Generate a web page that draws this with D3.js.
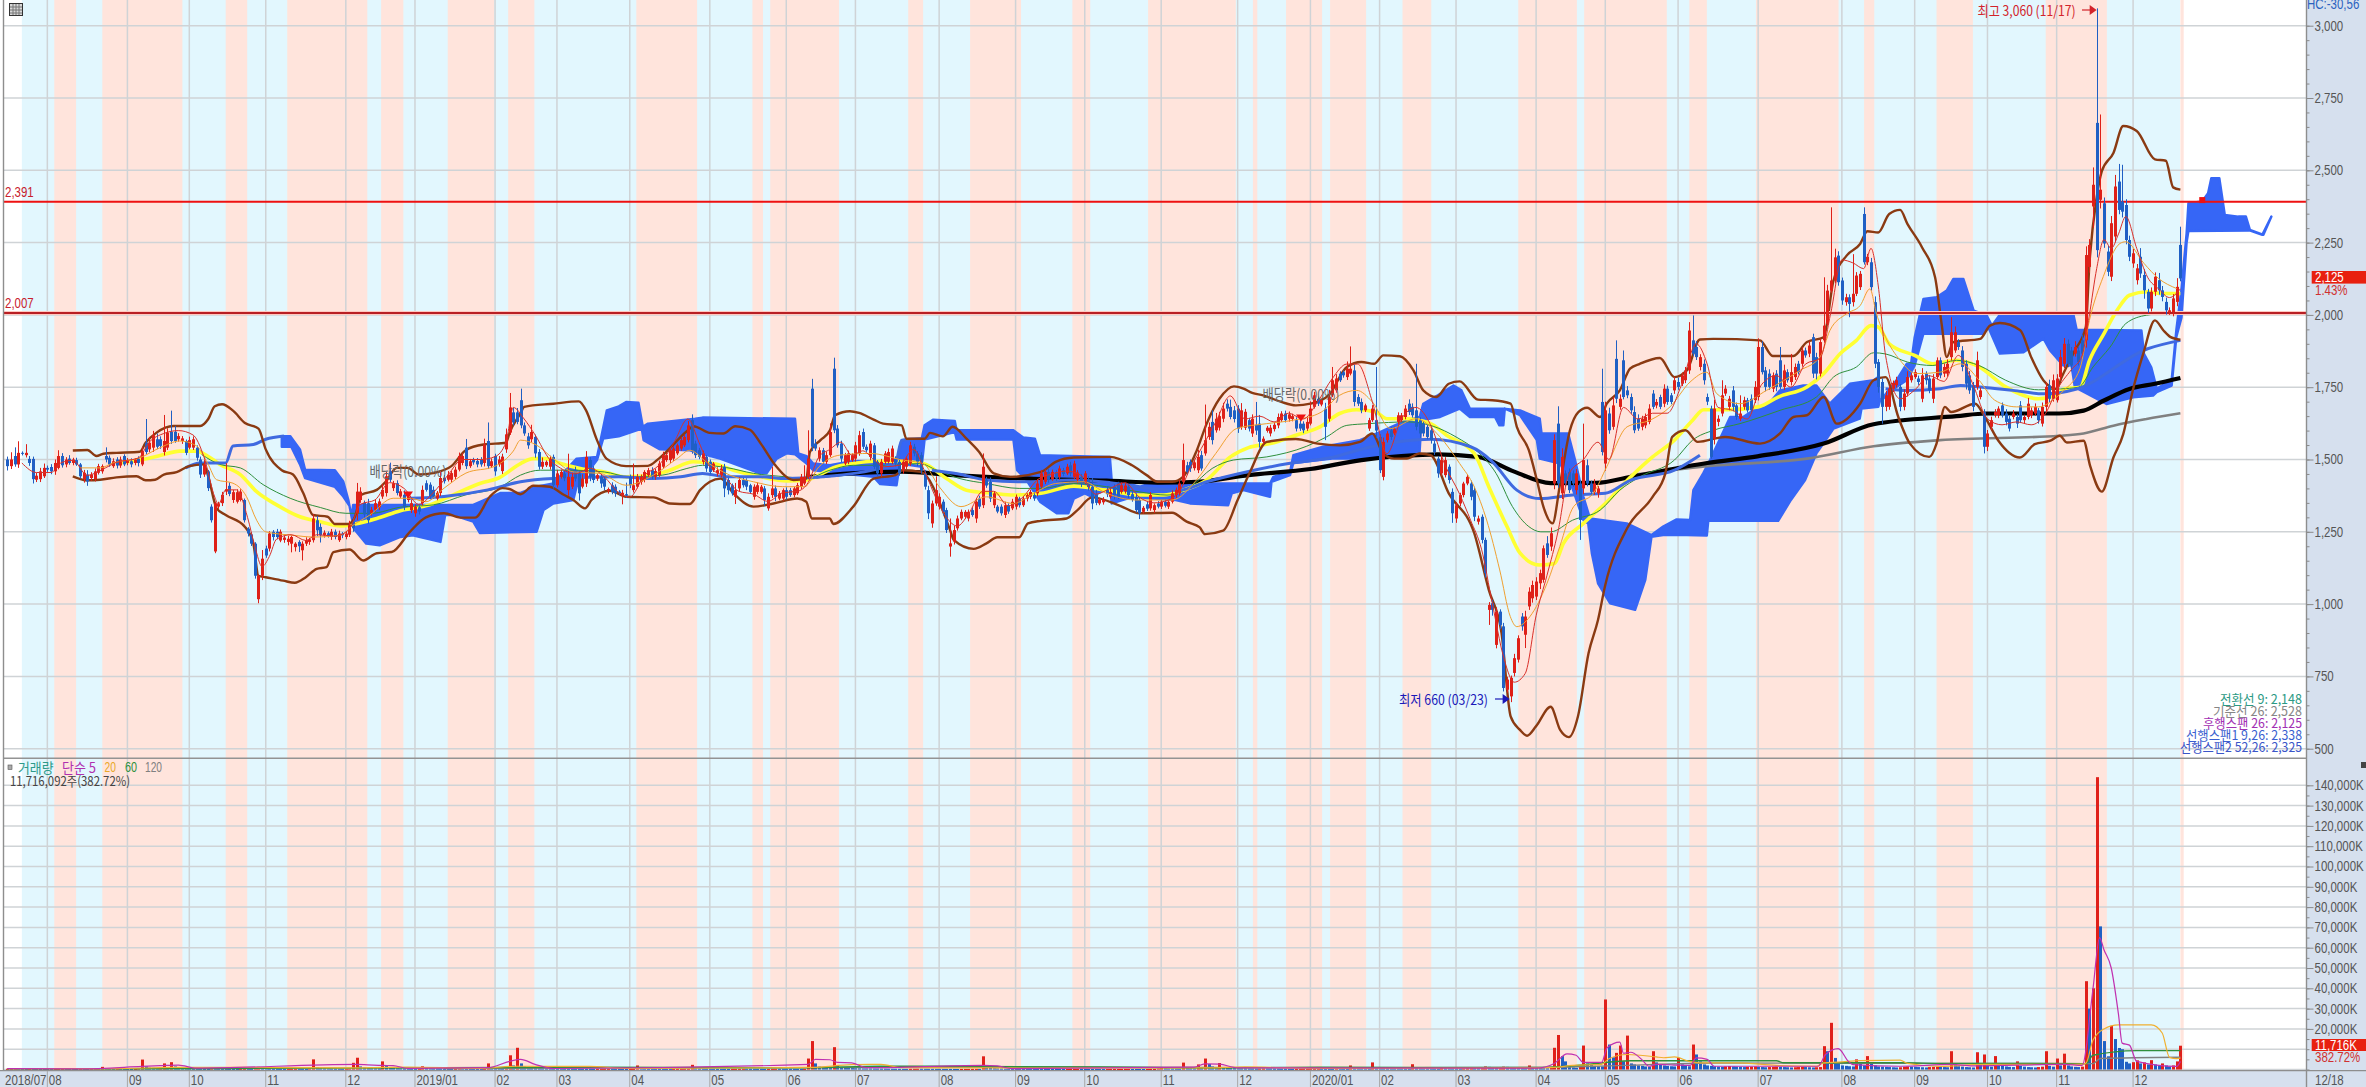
<!DOCTYPE html>
<html><head><meta charset="utf-8">
<script src="https://cdn.jsdelivr.net/npm/d3@7"></script>
<style>html,body{margin:0;padding:0;background:#fff;overflow:hidden}svg{display:block}</style>
</head><body><svg id="c" width="2366" height="1087"></svg>
<script>
const opens=[
1500,1477,1512,1483,1523,1515,1502,1502,1430,1432,
1442,1471,1474,1459,1471,1512,1483,1503,1488,1498,
1483,1432,1448,1436,1432,1454,1459,1512,1506,1477,
1500,1479,1512,1488,1494,1488,1503,1483,1558,1535,
1541,1570,1570,1526,1541,1596,1596,1570,1564,1564,
1541,1541,1541,1500,1448,1459,1337,1182,1337,1349,
1389,1409,1360,1354,1360,1360,1261,1241,1209,1017,
1098,1192,1192,1250,1250,1220,1222,1215,1209,1197,
1215,1186,1209,1215,1221,1290,1267,1238,1245,1232,
1250,1221,1244,1232,1240,1285,1314,1360,1350,1349,
1314,1326,1335,1372,1384,1459,1401,1418,1372,1378,
1360,1325,1314,1335,1349,1418,1413,1395,1365,1384,
1436,1430,1430,1440,1465,1488,1541,1477,1500,1495,
1500,1488,1564,1477,1512,1483,1460,1535,1593,1663,
1663,1705,1618,1580,1570,1578,1526,1475,1480,1475,
1509,1411,1440,1452,1394,1406,1463,1452,1406,1417,
1498,1469,1434,1440,1434,1392,1411,1406,1389,1375,
1380,1440,1394,1406,1423,1429,1446,1463,1440,1446,
1475,1498,1498,1503,1521,1538,1549,1567,1636,1555,
1532,1492,1509,1492,1463,1452,1446,1475,1429,1411,
1371,1400,1429,1429,1411,1371,1388,1388,1400,1331,
1377,1400,1365,1365,1394,1394,1377,1383,1406,1417,
1440,1745,1555,1503,1532,1492,1515,1814,1607,1555,
1486,1492,1498,1503,1521,1595,1544,1509,1549,1492,
1452,1492,1492,1492,1503,1492,1463,1475,1486,1544,
1521,1515,1452,1394,1279,1348,1337,1354,1325,1199,
1216,1262,1296,1302,1296,1325,1296,1365,1342,1430,
1423,1342,1337,1337,1308,1342,1331,1337,1365,1342,
1365,1371,1377,1383,1406,1423,1457,1432,1457,1440,
1463,1452,1480,1440,1430,1440,1423,1430,1406,1380,
1348,1352,1395,1371,1406,1417,1388,1390,1406,1380,
1371,1360,1319,1345,1331,1325,1348,1337,1354,1337,
1354,1377,1383,1423,1480,1492,1470,1463,1515,1521,
1578,1630,1601,1610,1641,1693,1682,1670,1676,1613,
1610,1636,1590,1620,1624,1561,1599,1590,1605,1618,
1636,1659,1641,1640,1636,1624,1624,1607,1624,1682,
1710,1690,1676,1641,1722,1739,1797,1802,1785,1797,
1808,1716,1699,1670,1607,1636,1636,1578,1440,1567,
1601,1590,1630,1636,1647,1693,1682,1670,1636,1624,
1613,1601,1555,1503,1452,1446,1475,1388,1296,1348,
1377,1417,1417,1394,1285,1302,1222,980,1003,859,
974,923,704,681,762,808,957,894,992,1020,
1026,1072,1084,1210,1199,1417,1624,1383,1452,1457,
1452,1394,1417,1400,1480,1417,1388,1383,1699,1486,
1659,1613,1848,1682,1843,1739,1716,1664,1641,1613,
1618,1630,1728,1687,1716,1693,1745,1722,1739,1768,
1762,1774,1808,1912,1889,1820,1831,1716,1676,1572,
1630,1659,1728,1682,1739,1687,1641,1682,1705,1710,
1705,1716,1889,1808,1797,1745,1797,1843,1751,1802,
1768,1785,1831,1831,1877,1866,1923,1854,1797,1912,
1969,2084,2119,2205,2119,2044,2061,2044,2073,2096,
2349,2182,2182,2044,1837,1768,1682,1682,1745,1757,
1751,1682,1728,1774,1785,1780,1710,1797,1780,1710,
1785,1843,1797,1797,1854,1877,1906,1877,1831,1791,
1756,1751,1716,1664,1544,1613,1653,1653,1687,1659,
1641,1647,1647,1687,1636,1647,1653,1659,1670,1624,
1682,1756,1710,1705,1785,1831,1900,1877,1866,1877,
1912,1912,2166,2375,2664,2398,2386,2219,2132,2271,
2461,2392,2380,2259,2178,2120,2201,2138,2080,2022,
2080,2120,2085,2045,2010,2010,2045,2242];
const closes=[
1477,1500,1483,1523,1520,1523,1488,1432,1444,1459,
1471,1465,1459,1488,1512,1480,1500,1488,1500,1483,
1442,1454,1424,1448,1459,1477,1477,1500,1483,1494,
1479,1500,1483,1497,1483,1500,1488,1529,1526,1558,
1584,1544,1547,1564,1593,1564,1564,1581,1573,1523,
1567,1570,1506,1448,1483,1401,1290,1349,1346,1378,
1397,1381,1387,1387,1389,1290,1244,1209,1098,1098,
1157,1168,1244,1232,1232,1250,1230,1226,1232,1209,
1200,1209,1221,1224,1296,1255,1238,1247,1236,1250,
1232,1244,1238,1244,1273,1262,1389,1389,1310,1290,
1326,1349,1355,1395,1442,1430,1418,1384,1390,1337,
1372,1349,1337,1320,1395,1395,1372,1372,1385,1436,
1425,1448,1453,1465,1512,1512,1477,1494,1490,1483,
1483,1552,1477,1494,1459,1500,1510,1587,1680,1628,
1630,1618,1590,1549,1595,1521,1475,1492,1492,1503,
1411,1452,1457,1435,1440,1440,1434,1383,1434,1509,
1440,1429,1446,1417,1406,1398,1388,1383,1383,1385,
1375,1411,1411,1440,1440,1457,1463,1440,1460,1486,
1515,1515,1532,1538,1549,1567,1578,1618,1532,1515,
1509,1521,1469,1457,1486,1463,1469,1400,1394,1383,
1394,1429,1411,1406,1388,1406,1411,1406,1360,1371,
1400,1371,1383,1394,1371,1377,1400,1411,1440,1440,
1503,1544,1538,1532,1492,1515,1595,1601,1549,1503,
1515,1521,1515,1549,1584,1544,1532,1555,1475,1452,
1492,1521,1526,1538,1486,1452,1492,1503,1549,1521,
1492,1463,1406,1314,1348,1394,1371,1319,1256,1210,
1256,1296,1319,1319,1319,1308,1354,1337,1475,1410,
1365,1383,1320,1314,1342,1320,1354,1371,1342,1365,
1377,1388,1365,1417,1452,1457,1430,1457,1434,1469,
1450,1475,1452,1486,1455,1420,1452,1405,1348,1350,
1362,1362,1380,1388,1377,1371,1411,1410,1377,1360,
1325,1314,1333,1330,1377,1342,1337,1354,1340,1354,
1383,1395,1417,1498,1457,1469,1490,1509,1469,1567,
1613,1567,1641,1650,1676,1676,1647,1640,1607,1670,
1665,1607,1641,1600,1561,1572,1610,1610,1620,1647,
1659,1636,1656,1650,1607,1607,1601,1630,1676,1722,
1693,1705,1613,1716,1774,1780,1774,1791,1814,1814,
1699,1693,1670,1687,1636,1676,1600,1463,1561,1590,
1578,1605,1653,1653,1676,1664,1653,1613,1590,1590,
1578,1567,1526,1452,1498,1498,1429,1314,1342,1377,
1417,1440,1371,1302,1296,1222,1107,997,980,974,
928,710,739,745,813,882,923,957,1043,1066,
1078,1107,1193,1170,1245,1567,1417,1509,1417,1394,
1417,1452,1291,1498,1417,1388,1417,1400,1526,1670,
1601,1687,1710,1710,1716,1722,1670,1601,1607,1641,
1647,1676,1682,1699,1682,1745,1699,1699,1774,1751,
1791,1808,1946,1866,1854,1854,1774,1700,1509,1676,
1641,1722,1745,1710,1682,1647,1659,1705,1670,1670,
1751,1889,1802,1751,1751,1791,1751,1751,1808,1774,
1802,1820,1802,1877,1860,1894,1797,1797,1906,1963,
2084,2119,2199,2113,2050,2061,2038,2073,2136,2142,
2182,2201,2096,1831,1751,1682,1722,1745,1765,1774,
1682,1728,1785,1791,1802,1768,1791,1774,1739,1780,
1843,1791,1820,1831,1940,1940,1889,1820,1762,1739,
1682,1843,1739,1544,1590,1636,1664,1676,1653,1630,
1607,1659,1624,1636,1647,1693,1670,1682,1636,1682,
1751,1710,1774,1780,1854,1900,1831,1825,1889,1837,
1866,2207,2242,2450,2224,2433,2247,2149,2317,2444,
2363,2357,2259,2201,2213,2161,2143,2085,2022,2080,
2132,2085,2062,2016,2016,2057,2097,2126];
const wickUp=[
10,25,30,40,5,30,10,8,10,12,
15,8,10,12,20,10,8,12,6,8,
5,10,15,8,10,8,6,30,8,10,
8,10,6,8,10,5,8,15,82,20,
15,20,10,90,15,73,20,10,8,5,
12,10,8,10,15,5,8,5,8,10,
90,12,8,10,8,5,5,8,5,5,
30,10,8,6,10,8,6,10,5,5,
6,8,10,5,15,15,12,8,6,10,
8,10,5,8,15,12,30,15,8,15,
10,12,10,20,15,30,8,10,8,15,
10,12,8,6,15,10,8,12,6,25,
10,12,8,10,12,10,30,8,6,10,
8,20,64,10,8,12,10,20,50,15,
15,40,10,12,25,8,10,15,5,10,
8,12,8,10,80,15,12,8,15,20,
10,8,5,8,6,5,10,8,5,10,
40,8,75,10,8,6,8,10,8,10,
12,8,10,8,6,10,8,15,20,10,
8,10,6,8,5,10,12,10,8,6,
25,10,8,6,5,8,10,6,8,12,
75,10,8,6,10,8,6,8,10,40,
98,34,15,10,8,12,30,38,12,10,
8,10,6,12,15,12,8,10,8,6,
10,8,12,10,8,12,10,8,12,10,
8,10,12,15,10,48,12,8,8,86,
15,10,8,6,8,10,12,10,46,10,
15,8,6,8,12,6,10,8,6,8,
6,8,10,15,12,8,10,8,6,10,
8,10,12,10,8,10,8,12,30,15,
6,8,10,12,8,6,10,8,6,10,
12,8,6,8,10,6,8,6,8,6,
10,8,12,57,12,8,10,25,15,123,
15,40,20,15,20,15,25,15,12,25,
10,8,15,79,30,8,6,10,8,12,
8,10,10,8,10,12,8,15,25,12,
8,6,20,25,46,15,8,6,25,77,
20,10,12,6,8,12,184,10,15,8,
12,8,10,8,12,15,12,161,10,8,
10,12,10,8,15,10,8,12,10,8,
6,8,10,12,10,8,8,10,12,15,
8,12,10,8,15,10,12,20,15,15,
15,12,10,25,20,20,60,30,10,12,
10,15,10,126,20,10,15,8,115,30,
20,30,64,15,34,15,12,20,15,10,
12,15,12,10,8,15,10,8,12,15,
10,12,29,86,20,10,15,12,10,30,
12,52,12,10,15,10,63,12,8,15,
20,30,20,12,15,10,12,46,20,10,
63,12,10,12,10,15,12,15,12,167,
20,253,30,15,10,12,10,137,12,10,
23,10,15,20,10,12,15,10,8,12,
10,15,20,8,10,10,25,8,12,15,
10,10,12,15,52,20,10,15,12,15,
12,30,10,10,12,12,10,8,10,15,
10,12,10,15,8,20,10,12,8,15,
15,20,20,15,25,20,15,12,20,12,
20,30,20,60,396,260,20,20,25,40,
61,127,20,15,15,15,30,20,10,15,
15,25,15,15,10,15,30,63];
const wickDown=[
15,10,8,12,6,8,10,15,8,10,
6,8,10,12,5,8,10,6,8,5,
8,12,15,10,8,6,8,10,8,6,
10,8,6,8,10,8,12,6,8,10,
15,8,10,12,8,10,6,8,10,8,
6,8,10,12,8,10,8,6,8,10,
12,8,10,6,5,8,10,8,10,14,
15,8,10,12,8,6,10,12,30,15,
20,35,8,10,8,20,25,8,6,10,
8,6,10,8,8,12,24,10,15,12,
8,6,10,8,12,8,10,8,6,12,
8,10,12,10,8,6,10,8,6,10,
8,6,10,8,6,8,10,6,8,10,
8,12,10,6,15,8,10,12,8,10,
8,10,8,12,10,15,10,8,6,10,
12,8,6,10,20,8,10,25,6,12,
15,10,8,15,12,10,8,12,6,30,
8,10,8,6,10,8,6,8,10,6,
8,6,10,8,6,8,6,8,12,10,
8,10,12,8,6,10,8,30,15,8,
25,10,8,12,6,10,8,6,20,8,
10,15,6,8,10,6,8,6,8,6,
8,15,8,10,6,8,6,10,8,12,
6,8,6,10,8,8,6,12,8,10,
12,8,6,8,10,8,12,8,8,10,
15,12,10,20,15,8,10,12,10,35,
10,8,6,8,10,6,15,8,10,8,
12,10,6,8,10,8,6,10,8,6,
10,8,8,10,6,8,10,6,8,10,
8,6,10,8,12,15,8,12,20,8,
6,8,10,6,15,8,6,8,10,6,
8,20,6,8,8,10,6,8,6,8,
6,10,8,8,10,12,8,10,8,8,
10,15,8,10,12,10,8,12,15,10,
8,10,12,15,20,8,6,10,8,10,
6,8,10,8,10,8,10,8,6,6,
8,6,46,10,6,8,6,8,10,6,
15,8,10,6,8,6,25,10,12,8,
10,6,8,6,8,10,8,12,15,10,
8,12,10,15,8,8,12,33,15,10,
8,6,12,15,10,12,15,52,20,12,
15,12,10,20,12,10,15,46,12,15,
12,20,10,10,15,20,15,20,10,10,
12,15,69,20,10,12,10,15,12,25,
12,10,15,10,8,10,12,10,8,12,
10,8,8,10,8,12,10,8,12,10,
8,10,12,8,10,12,15,12,6,20,
15,10,8,12,15,10,8,10,8,6,
10,12,8,15,10,12,15,8,10,8,
12,10,8,10,8,12,15,20,10,8,
6,8,10,12,15,12,46,15,8,10,
8,10,12,15,20,58,15,10,12,8,
15,12,10,8,6,10,12,15,10,15,
8,10,12,10,12,8,10,15,20,12,
15,10,8,23,15,12,8,10,8,12,
10,8,15,10,12,8,10,8,12,10,
15,12,10,8,12,15,12,20,10,12,
10,25,20,74,25,30,15,15,15,20,
15,20,15,15,15,15,15,29,15,10,
15,15,15,15,10,15,15,10];
const volumes=[
350,450,700,500,400,300,350,300,280,260,
240,220,200,260,300,350,320,300,280,260,
400,380,350,450,500,600,1300,500,450,400,
420,380,350,330,320,350,700,4900,1500,900,
800,700,1200,3000,1100,3600,1500,700,600,500,
450,420,400,380,360,340,500,450,420,380,
350,330,320,300,350,400,380,360,500,1300,
700,500,420,380,350,330,320,340,360,380,
360,340,320,500,5000,1200,700,600,500,450,
420,400,380,420,500,3300,5800,1500,900,700,
600,500,450,4000,1700,900,700,600,500,450,
420,400,380,400,1600,700,500,450,420,400,
380,360,350,400,1000,500,420,400,380,360,
350,380,3000,900,600,500,450,800,7000,2000,
10700,3000,1500,1000,800,700,600,550,500,480,
450,430,420,400,380,360,350,340,330,320,
310,300,320,340,350,360,340,320,300,290,
280,300,320,2000,600,450,400,380,360,350,
340,330,320,340,360,380,400,420,2300,600,
450,400,380,360,340,320,300,290,280,300,
320,340,360,350,330,320,300,290,280,300,
320,340,330,320,310,300,290,280,270,300,
5400,14000,3000,1400,1000,800,700,11000,2000,1200,
900,800,700,600,550,500,480,460,440,420,
400,380,360,340,330,320,310,300,320,340,
360,350,340,330,320,310,300,290,280,270,
260,250,260,270,280,290,300,280,6500,1500,
800,600,500,450,420,400,380,360,350,340,
330,320,310,300,290,280,270,260,250,240,
230,240,250,260,270,260,250,240,230,220,
210,200,210,220,230,240,250,260,270,260,
250,240,230,240,250,260,500,700,600,500,
450,420,400,3400,800,600,500,2500,1200,5400,
2700,1500,1000,3200,1200,800,700,600,500,480,
460,440,420,400,420,440,430,420,400,380,
360,340,320,300,320,340,360,380,400,420,
440,420,400,380,360,500,450,420,400,2000,
900,700,600,500,450,3500,900,700,650,600,
550,520,500,480,450,430,2600,900,600,500,
480,460,440,420,1000,600,500,480,460,450,
500,700,1200,800,700,900,1500,1300,1100,900,
1000,1400,1300,1000,900,800,700,650,2000,900,
800,700,600,550,700,10700,17000,6600,4000,1500,
1000,800,2000,11800,3000,2500,1800,1600,1500,34500,
12300,6000,8200,11800,4000,16700,3000,2500,2000,1800,
1500,1400,9000,3500,2500,2000,1800,1600,1500,5700,
2500,2000,1600,12300,7400,4000,2500,2000,1800,1600,
1400,1300,1500,1700,1500,1400,1300,1200,1300,1400,
1500,1300,1200,1100,1200,1300,1400,1300,1200,1100,
1000,1100,1200,1300,1200,1100,1000,1100,1200,11500,
9000,23000,5700,3000,2000,1800,1600,1500,5000,3000,
2000,6600,3000,2000,1500,1400,1300,1200,1100,1000,
1100,1300,1500,1400,1300,1200,1100,1000,1200,1300,
1400,1300,1200,1100,9000,2500,1600,1400,1200,1100,
1000,8500,2500,7400,2000,1400,6600,2500,1800,1500,
1300,1200,4000,1800,1400,1200,1100,1000,1200,1400,
9000,1800,1400,5400,2000,7800,2000,1500,1300,1200,
1400,43500,30000,40000,144000,70500,14000,6500,21500,15000,
10600,10000,3800,3000,3600,4500,3000,3500,2500,4600,
2500,2000,3000,2000,1500,2000,4000,11716];

const tradeMonthIdx=[11,33,50,71,93,112,134,151,171,193,214,233,256,277,296,317,338,358,377,398,420,439,459,481,504,524,544,563,584];
const tradeMonthLabels=["08","09","10","11","12","2019/01","02","03","04","05","06","07","08","09","10","11","12","2020/01","02","03","04","05","06","07","08","09","10","11","12"];
const riseBands=[[12.9,18.9],[26.1,48.1],[60,65.9],[76.9,98.9],[102.7,108.8],[121,133.8],[137.6,144.8],[172.8,189.5],[204.7,207.6],[209.6,228.5],[247.5,251.6],[264.5,278.5],[292.6,297.5],[313.4,337.5],[342.2,343.4],[351.3,361.2],[363.4,373.3],[383.3,391.2],[415.1,431.2],[433.2,455.9],[462.1,466.9],[480.4,503.1],[510.1,512.9],[530,540],[560,576.8],[597,597.9]];
const priceLevels=[3000,2750,2500,2250,2000,1750,1500,1250,1000,750,500];
const volumeLevels=[0,10000,20000,30000,40000,50000,60000,70000,80000,90000,100000,110000,120000,130000,140000];

const bbUpper=[[18,1531],[22,1533],[24.5,1512],[26.4,1520],[30,1523],[36.4,1527],[38,1558],[41,1593],[45.6,1616],[53,1616],[55.2,1640],[57,1684],[59,1691],[62,1669],[65.3,1626],[69,1607],[71,1535],[75.4,1463],[78.5,1448],[81.3,1384],[84,1308],[88,1302],[90,1277],[93.7,1277],[95.5,1302],[97.3,1378],[101.5,1395],[104,1424],[107,1471],[110,1471],[113,1448],[117,1453],[122,1477],[126,1533],[131,1552],[137,1558],[138,1593],[141,1660],[142,1682],[150,1693],[157,1701],[159,1670],[162,1567],[164.6,1503],[170,1477],[176,1478],[179,1503],[187,1601],[188.5,1615],[193,1592],[196.7,1590],[200,1615],[204,1603],[207,1555],[211,1480],[216,1429],[219.5,1434],[220.5,1526],[223.4,1567],[226,1601],[227.4,1653],[231.5,1667],[234,1661],[238,1638],[240.6,1624],[245.7,1618],[247,1572],[252,1572],[253.5,1592],[257,1580],[259.7,1613],[263.5,1572],[267,1526],[271,1452],[275.5,1440],[284,1457],[288,1492],[293,1507],[303,1509],[309,1480],[313,1446],[316,1423],[320,1423],[323,1440],[326.8,1532],[329.5,1624],[333,1710],[337,1753],[339.6,1745],[342,1730],[345,1722],[350,1699],[354,1687],[358,1693],[363,1722],[368,1820],[372,1837],[375.5,1831],[378,1860],[382.6,1857],[386.3,1808],[389,1739],[392.6,1716],[396,1762],[399,1770],[404,1707],[408,1705],[413,1693],[414.7,1613],[418,1532],[420.2,1429],[422,1337],[424.5,1279],[426.6,1417],[429.3,1601],[431.6,1664],[434,1679],[437.6,1647],[439.4,1693],[443,1739],[445.8,1814],[448.5,1831],[454,1851],[458,1785],[461.4,1808],[465,1915],[468.7,1917],[481.5,1912],[485,1858],[490.7,1858],[494.4,1906],[499,1923],[501.7,2119],[505.3,2205],[509,2245],[511,2289],[514,2285],[517,2349],[520,2363],[522,2315],[526,2234],[529.6,2130],[531.4,1969],[532.8,1854],[534.6,1906],[542,1917],[544.7,1963],[547.4,1972],[553,1947],[556,1854],[559.4,1773],[563,1744],[564.4,1785],[568,1877],[571,1958],[572,2175],[574,2406],[575.4,2496],[578.6,2560],[581.3,2653],[585,2636],[590,2538],[593,2533],[595,2441],[597,2433]];
const bbLower=[[18,1442],[22,1428],[25.5,1430],[30,1438],[35.5,1442],[38,1428],[40.6,1430],[43,1448],[46.5,1456],[50,1477],[54,1483],[55.2,1442],[57.5,1331],[60,1308],[65.3,1267],[67.6,1209],[69,1098],[71,1093],[75.8,1081],[79,1074],[82,1093],[85,1122],[87.7,1128],[89.6,1180],[94,1189],[97.8,1151],[101.5,1176],[105.6,1180],[110.6,1250],[115,1300],[120,1314],[124.6,1299],[128.5,1299],[132.6,1372],[136,1401],[138,1398],[141,1380],[144.5,1409],[149,1406],[153,1377],[155.5,1360],[158.7,1331],[160.5,1360],[165.6,1392],[170,1371],[177.5,1369],[182,1348],[187.5,1346],[190.3,1394],[193,1423],[196,1434],[199.5,1383],[205,1337],[210.5,1348],[217,1365],[219.5,1354],[221,1296],[226,1296],[226.9,1277],[232.4,1337],[238,1434],[244,1446],[246,1463],[251,1457],[259,1256],[260,1222],[265.5,1191],[269,1210],[272,1231],[278,1231],[280.4,1279],[284,1288],[291,1296],[294,1325],[298,1369],[305.7,1340],[311,1314],[320,1316],[324,1285],[327.6,1265],[329,1242],[334,1254],[338,1360],[341.4,1457],[346,1561],[354,1571],[360,1555],[366,1549],[371.6,1561],[375,1590],[378,1521],[381,1503],[384.5,1503],[388,1521],[391,1515],[396,1383],[403,1245],[407,1049],[410.5,900],[413,612],[415.5,566],[417.5,545],[420,578],[424,645],[426.6,565],[429,540],[431.5,612],[434.4,830],[437,945],[439,1066],[445,1262],[452,1371],[455.5,1452],[457.4,1578],[461,1601],[464.4,1561],[471.9,1578],[481.5,1555],[487,1590],[490.7,1647],[494.4,1653],[499,1716],[502.6,1624],[509,1693],[512.7,1774],[516,1785],[519.5,1647],[522.7,1555],[528,1509],[530,1555],[532.3,1682],[534,1664],[540.6,1693],[543.3,1647],[547,1565],[552.9,1507],[557,1553],[561.3,1565],[563.9,1582],[565.8,1559],[570.4,1565],[572.2,1478],[575.4,1389],[578.6,1507],[581.3,1588],[583.9,1738],[586.8,1866],[590,1981],[592.3,1947],[594.2,1924],[597,1914]];
const maYellow=[[31,1488],[36.4,1498],[42,1514],[47.4,1529],[52,1529],[55,1512],[58.4,1483],[64,1448],[68.5,1389],[74,1343],[80.4,1302],[86,1285],[91.4,1270],[95.5,1277],[101.5,1296],[108,1323],[116,1343],[122.5,1378],[130,1418],[135,1436],[141,1486],[144.5,1503],[148,1503],[152,1486],[157.4,1469],[164,1457],[170,1440],[177.5,1446],[182,1463],[188.5,1492],[194,1486],[199.5,1463],[207,1440],[214.2,1426],[219.5,1429],[223,1446],[227,1472],[232.4,1486],[238,1494],[244.3,1494],[251.6,1486],[258,1434],[263.5,1394],[271,1383],[276.4,1377],[284,1383],[293,1408],[302,1394],[311,1377],[317.7,1377],[323,1394],[329.5,1429],[336,1509],[341,1541],[347,1555],[354,1584],[360.6,1613],[366,1659],[370.7,1672],[376,1664],[379,1641],[384.4,1641],[391,1624],[395.4,1584],[403,1521],[407,1406],[412,1268],[415.6,1176],[421,1135],[425,1140],[427.5,1210],[433,1279],[439,1348],[446,1440],[452,1509],[458,1567],[463,1636],[466,1672],[472.5,1672],[481,1682],[486.5,1716],[494.4,1751],[499,1797],[503.5,1866],[508,1912],[512,1963],[514,1958],[517,1900],[524,1860],[529,1831],[535.5,1843],[541.7,1820],[549,1751],[558,1710],[563,1722],[565,1744],[569.5,1750],[572,1842],[576,1935],[579.6,2016],[583,2068],[588,2080],[592,2074],[597,2074]];
const maGreen=[[53.4,1517],[58.4,1483],[64,1471],[70.3,1413],[77.7,1366],[86,1334],[93,1314],[96,1314],[100,1314],[108,1335],[117,1343],[126,1378],[135.4,1405],[141,1446],[146.4,1463],[154.6,1463],[164,1457],[171,1440],[180,1446],[186.7,1469],[191,1480],[197.6,1472],[205,1452],[214,1440],[219.5,1434],[226,1463],[232.4,1480],[241.6,1480],[250.7,1486],[255.3,1463],[261.7,1434],[269,1417],[278,1400],[284,1400],[293,1417],[302,1406],[311,1388],[318.6,1377],[325,1406],[331,1469],[336.8,1498],[346,1509],[357,1546],[362.4,1578],[368,1618],[374,1624],[385,1630],[391.7,1615],[398,1578],[404,1526],[409,1452],[413.5,1337],[418,1268],[421.3,1250],[424,1250],[430,1290],[437.6,1325],[443,1394],[448.5,1440],[458,1498],[463,1567],[468.7,1601],[476,1624],[487,1670],[497,1716],[501.7,1785],[508,1820],[512.7,1869],[516,1865],[522,1837],[529,1825],[535.5,1843],[541.7,1825],[549,1774],[558,1741],[564,1744],[569,1750],[573,1820],[577.7,1889],[582,1970],[587.7,1999],[597,2010]];
const blueEarly=[[49,1471],[53,1488],[60,1488],[62,1547],[67.6,1552],[71,1570],[76,1581]];
const blueMid=[[110.6,1366],[120,1372],[132,1395],[141,1423],[150,1434],[168,1440],[177.5,1434],[185,1440],[191,1452],[197.6,1440],[207,1440],[214,1434],[224,1440],[240,1470],[244,1486],[245.7,1567],[251,1572]];
const blueMain=[[254,1462],[261,1451],[269,1429],[278,1423],[293,1429],[303,1420],[314,1400],[322,1394],[329.5,1423],[340.4,1457],[352,1486],[363,1505],[375,1545],[391,1570],[402,1544],[408,1492],[414.7,1394],[421,1365],[430,1377],[439,1383],[446,1429],[458,1463],[465,1515]];
const blueLate=[[516,1745],[522,1739],[531,1745],[536.6,1756],[542,1751],[551,1739],[559.4,1727],[568.5,1744],[588,1883],[597,1912]];
const maBlack=[[220.6,1440],[231.8,1452],[245.8,1458],[260,1446],[282,1433],[302,1427],[316,1420],[327,1423],[341,1446],[358,1467],[372,1498],[383,1512],[393,1518],[404,1509],[414,1458],[424,1418],[436.5,1419],[446,1440],[467,1488],[480.8,1511],[499,1555],[512.7,1622],[535.5,1650],[543.7,1659],[563.7,1659],[570.4,1669],[576,1704],[583,1744],[590,1762],[597,1782]];
const maGrey=[[446,1446],[467,1477],[494.4,1503],[512.7,1546],[531,1567],[563.7,1582],[570.4,1590],[578.6,1617],[587.7,1640],[597,1660]];
const maOrange=[[20,1471],[25.5,1471],[29,1488],[36.4,1506],[42,1541],[47.4,1564],[52,1547],[55,1488],[57.5,1430],[62,1418],[65.7,1372],[68.5,1290],[71,1250],[78.5,1238],[84,1232],[91.4,1238],[95,1273],[99.6,1308],[106,1366],[110.6,1366],[115,1354],[120,1401],[126,1453],[134,1477],[139,1529],[141,1567],[145.5,1549],[150,1503],[155.5,1457],[162.8,1452],[170,1411],[177.5,1446],[184,1503],[187.5,1532],[192,1492],[198.5,1446],[205,1423],[213,1406],[219,1406],[223,1475],[228.7,1515],[237,1521],[246,1498],[251.6,1486],[256,1406],[262,1337],[269,1371],[276.4,1348],[282,1383],[288,1417],[295.6,1423],[302,1383],[310,1360],[320,1360],[326.7,1429],[332,1521],[337.7,1607],[346,1624],[353.3,1636],[361,1664],[366,1722],[370.7,1739],[375,1699],[380,1607],[387,1641],[393.6,1578],[399,1486],[403,1406],[406.4,1291],[410,1118],[412.9,957],[414.7,922],[418.3,957],[423,1072],[426.5,1199],[430.3,1337],[435.7,1383],[439.4,1475],[445,1613],[451.3,1636],[456.8,1682],[462.3,1768],[466.9,1802],[469.6,1728],[476,1693],[483.3,1739],[492.5,1808],[498,1854],[500.7,1946],[505.3,2004],[509,2032],[511.7,2090],[513.5,2004],[516,1923],[520,1843],[524.5,1797],[531,1802],[536.6,1831],[541.7,1774],[546,1705],[552,1682],[558,1682],[563,1716],[564.9,1738],[569.4,1814],[572,1981],[575.8,2132],[580.4,2247],[582,2253],[587,2178],[591,2126],[596,2091]];
const maRed=[[4,1488],[8,1455],[12,1455],[15,1490],[18,1497],[22,1445],[26,1465],[30,1490],[36,1505],[39,1560],[43,1590],[47,1600],[51,1585],[54,1510],[57,1370],[58,1345],[60,1395],[63,1395],[66,1300],[68,1200],[70,1130],[72,1165],[74,1225],[78,1240],[82,1220],[85,1240],[90,1235],[94,1260],[97,1345],[101,1360],[105,1420],[109,1400],[113,1345],[117,1385],[121,1445],[125,1500],[130,1500],[134,1510],[137,1560],[139,1680],[142,1640],[145,1585],[149,1500],[152,1470],[156,1450],[160,1470],[164,1440],[168,1385],[171,1370],[175,1445],[179,1480],[183,1555],[187,1640],[190,1560],[193,1475],[197,1440],[201,1390],[205,1380],[209,1355],[213,1385],[217,1390],[220,1420],[223,1510],[226,1535],[229,1560],[232,1515],[235,1530],[238,1500],[241,1475],[245,1480],[249,1535],[252,1460],[255,1370],[258,1300],[261,1270],[264,1310],[268,1390],[271,1390],[275,1340],[279,1370],[283,1430],[287,1450],[291,1460],[295,1445],[299,1380],[303,1400],[307,1420],[311,1370],[315,1350],[319,1360],[322,1390],[325,1470],[329,1560],[332,1630],[336,1720],[340,1640],[344,1650],[348,1630],[352,1660],[356,1640],[360,1700],[364,1780],[368,1830],[371,1830],[375,1700],[379,1520],[383,1640],[387,1680],[391,1620],[395,1480],[399,1380],[402,1290],[405,1190],[408,1000],[411,820],[414,730],[417,760],[420,960],[423,1100],[426,1250],[429,1450],[433,1500],[437,1560],[440,1500],[444,1680],[448,1640],[452,1660],[456,1660],[460,1760],[464,1900],[467,1830],[470,1680],[474,1670],[478,1640],[482,1760],[486,1790],[490,1750],[494,1830],[498,1850],[501,2010],[504,2190],[507,2180],[510,2160],[512,2230],[514,2100],[516,1860],[520,1710],[524,1740],[528,1790],[532,1770],[536,1860],[540,1760],[544,1640],[548,1620],[552,1630],[556,1620],[560,1660],[563,1740],[567,1810],[570,1860],[572,2000],[574,2160],[576,2260],[578,2230],[580,2280],[582,2340],[585,2230],[588,2130],[591,2090],[594,2060],[597,2090]];
const cloudTop=[[75.4,1581],[77.7,1581],[80.4,1535],[81.8,1465],[90,1463],[92.3,1424],[93.7,1360],[94.6,1300],[95,1343],[128,1343],[135.4,1384],[140.8,1384],[145.4,1406],[150,1417],[156.4,1503],[162,1509],[162.8,1555],[164.7,1670],[168,1684],[170,1699],[173.4,1696],[174.6,1613],[176,1624],[189,1641],[191,1645],[216.4,1641],[217.3,1521],[219.6,1512],[221.4,1486],[226,1480],[232.4,1495],[244.8,1492],[245.7,1567],[251.2,1572],[252,1618],[254.4,1638],[260.3,1633],[260.8,1601],[276.4,1601],[279.1,1576],[282.3,1572],[283.7,1515],[302.9,1509],[303.4,1429],[311.2,1406],[315.3,1423],[321.2,1411],[329.5,1417],[346.9,1417],[347.8,1440],[352.4,1457],[353.3,1515],[361.5,1544],[371.6,1567],[377.1,1595],[384.4,1636],[388,1647],[389,1693],[393,1722],[397.3,1756],[399.5,1739],[401.8,1676],[411,1676],[415.6,1670],[421,1641],[421.5,1590],[428.8,1590],[430.7,1498],[433,1371],[434.8,1296],[444.9,1279],[451.7,1239],[454.9,1268],[458.6,1293],[462.3,1291],[463.2,1394],[465.9,1452],[467.8,1498],[473.3,1647],[476.9,1647],[479.7,1670],[483.3,1682],[487,1739],[493.4,1756],[497,1756],[500.7,1693],[506.2,1762],[512.7,1774],[514,1785],[514.4,1700],[519,1774],[521.8,1831],[523,1831],[524,1923],[526.4,2055],[530,2061],[532.8,2084],[534.6,2124],[537.4,2124],[540.2,2015],[543.8,1998],[545.2,1963],[547.4,2001],[567.6,2002],[568.5,1949],[586.3,1946],[587,1865],[589,1819],[590.5,1745],[594.6,1775],[595.9,1950],[597.3,2090],[598.7,2282],[599.2,2386],[603,2392],[604.6,2421],[605.5,2473],[607.7,2473],[609.2,2346],[612.9,2340],[615,2340],[616.1,2294],[619.8,2277],[622,2340]];
const cloudBottom=[[75.4,1544],[78,1544],[80.4,1483],[81.8,1436],[90,1405],[92.3,1372],[94,1340],[94.6,1300],[95.5,1256],[98.6,1209],[102.3,1203],[108,1232],[111.4,1238],[119,1215],[120.3,1308],[122.5,1308],[128,1285],[129.8,1246],[145.4,1250],[147.3,1325],[150,1348],[155.5,1360],[156.4,1406],[162,1498],[163.7,1572],[168,1580],[174.3,1607],[174.8,1567],[179.3,1535],[187.6,1532],[189,1526],[195.8,1503],[206.8,1452],[208.6,1452],[211.4,1503],[214.1,1521],[216.4,1518],[219.6,1486],[221.4,1463],[226,1457],[228.8,1452],[238,1440],[239.8,1415],[244.3,1411],[245.2,1486],[251.2,1475],[252,1569],[260.3,1595],[260.8,1569],[276.4,1569],[277.4,1463],[280,1429],[283.7,1354],[288.3,1314],[291.5,1314],[293,1365],[296,1383],[298,1371],[302.9,1406],[303.4,1348],[309.3,1371],[314.8,1365],[321,1360],[324.9,1348],[335.4,1342],[336.4,1383],[339.6,1394],[346.9,1371],[347.3,1423],[352.4,1446],[353.3,1488],[364,1503],[375.3,1503],[388,1526],[388.5,1636],[393.6,1647],[399,1676],[401.8,1647],[408.7,1647],[409.9,1618],[411,1618],[411.4,1676],[415.6,1653],[420.2,1567],[421,1503],[426.6,1486],[430,1400],[433,1290],[434.3,1279],[435.3,1176],[437,1072],[440.3,1003],[447.2,980],[450,1084],[451.7,1233],[454.9,1239],[461.3,1239],[466.9,1237],[467.3,1288],[486.5,1288],[490,1360],[493.9,1429],[497,1521],[498.9,1555],[501.7,1607],[508.9,1641],[509.4,1676],[514,1682],[514.4,1700],[519,1751],[521.8,1774],[524,1825],[526.4,1935],[542.9,1935],[544.2,1958],[547.4,1866],[553.9,1871],[559.4,1918],[561.2,1877],[564.8,1825],[567.1,1825],[568,1750],[574.9,1704],[576.7,1692],[584,1715],[589.5,1721],[590.5,1733],[594.6,1755],[595.9,1925],[597.3,1990],[598.7,2250],[599.2,2290],[616,2292],[619.5,2277],[622,2340]];
const volMa5=[[0,450],[20,320],[37,1500],[42,1900],[47,2200],[52,700],[96,2500],[99,2300],[103,2000],[106,1900],[110,600],[132,900],[138,4000],[141,5000],[145,2500],[150,500],[220,2500],[222,5000],[226,4800],[228,3500],[232,3300],[236,900],[268,2000],[272,1800],[276,400],[326,1200],[329,2800],[333,2600],[338,800],[420,700],[425,3000],[428.5,7700],[431,7000],[433,3500],[438,3500],[439.5,10700],[443,13500],[444,8000],[446,8500],[449,5000],[451,1600],[453,2500],[458,2200],[462.3,2000],[464,5700],[467,5000],[469,1600],[497.5,1600],[499.5,7400],[503,10300],[505.8,4000],[507,2400],[520,1600],[534,2500],[540,1800],[565,2500],[570,2000],[573,40000],[574.8,65000],[576,59000],[578,50000],[580,27000],[581,13000],[583,12000],[585,4000],[596,1500],[597,4000]];
const volMa20=[[0,400],[30,450],[45,1000],[60,1100],[96,800],[110,1200],[130,600],[140,1600],[160,1500],[170,500],[221,1000],[232,2400],[240,2500],[246,900],[268,800],[280,700],[330,800],[340,1300],[360,600],[420,800],[425,1000],[430,2000],[438,2500],[440,5300],[445,7400],[453,6200],[455,5800],[458,6200],[462,4000],[465,3300],[475,3300],[486,2000],[497,1600],[499,3300],[503,3600],[509,4400],[520,4600],[522,3000],[531,1500],[543,2500],[552,2500],[570,2600],[571,3000],[573,14500],[576,20000],[580,22000],[589,22000],[592,18000],[594,6000],[596,5400],[597,5600]];
const volMa60=[[0,350],[60,500],[100,700],[160,1100],[220,800],[240,1600],[300,1200],[330,700],[360,1100],[420,1000],[430,1800],[446,4300],[465,4300],[486,4300],[488,3300],[520,3300],[532,3000],[571,2900],[573,7000],[585,9300],[597,9300]];
const volMa120=[[120,500],[180,800],[240,1000],[300,1100],[360,900],[420,1000],[440,1800],[470,3200],[520,3000],[573,2900],[575,5400],[597,6000]];

const W=2366,H=1087,axisX=2306.5,frameX=3.5;
const x=d3.scaleLinear().domain([0,597]).range([7.3,2180.4]);
const y=d3.scaleLinear().domain([500,3000]).range([748.7,25.7]);
const v=d3.scaleLinear().domain([0,140000]).range([1069.5,785.3]);
const svg=d3.select("#c");
const narrow="'Liberation Sans',sans-serif";
const kr="'Noto Sans CJK KR','Liberation Sans',sans-serif";
svg.append("rect").attr("width",W).attr("height",H).attr("fill","#fff");
svg.append("rect").attr("x",x(4)).attr("y",0).attr("width",x(596.9)-x(4)).attr("height",1071).attr("fill","#e2f7fe");
svg.append("g").selectAll("rect").data(riseBands).join("rect")
 .attr("x",d=>x(d[0])).attr("y",0).attr("width",d=>x(d[1])-x(d[0])).attr("height",1071).attr("fill","#ffe4dc");
const grid=svg.append("g").attr("stroke","#cfd3d6").attr("stroke-width",1.5);
grid.selectAll(".vg").data(tradeMonthIdx).join("line").attr("class","vg").attr("x1",d=>x(d)).attr("x2",d=>x(d)).attr("y1",0).attr("y2",1087);
grid.selectAll(".hp").data(priceLevels).join("line").attr("class","hp").attr("x1",frameX).attr("x2",axisX).attr("y1",d=>y(d)).attr("y2",d=>y(d));
grid.selectAll(".hv").data(volumeLevels).join("line").attr("class","hv").attr("x1",frameX).attr("x2",axisX).attr("y1",d=>v(d)).attr("y2",d=>v(d));
const path=d3.line().x(d=>x(d[0])).y(d=>y(d[1]));
svg.append("path").attr("d",path(cloudTop.concat(cloudBottom.slice().reverse()))+"Z").attr("fill","#3666f6").attr("stroke","#3666f6").attr("stroke-width",2.4).attr("stroke-linejoin","round");
const ln=(data,col,w,scale)=>svg.append("path").attr("d",d3.line().curve(d3.curveMonotoneX).x(d=>x(d[0])).y(d=>(scale||y)(d[1]))(data)).attr("fill","none").attr("stroke",col).attr("stroke-width",w).attr("stroke-linejoin","round");
ln(maGrey,"#808080",2.6);
ln(maBlack,"#000",4.2);
ln(maYellow,"#ffff33",3.6);
ln(maGreen,"#2f8f3c",1);
ln(blueEarly,"#3f6ae0",3);
ln(blueMid,"#3f6ae0",3);
ln(blueMain,"#3f6ae0",3);
ln(blueLate,"#3f6ae0",3);
ln(bbUpper,"#8a3a12",2.4);
ln(bbLower,"#8a3a12",2.4);
svg.append("path").attr("d",`M${frameX},${y(2391)}H${axisX}`).attr("stroke","#ee1111").attr("stroke-width",2);
svg.append("path").attr("d",`M${frameX},${y(2007)}H${axisX}`).attr("stroke","#ffc8c0").attr("stroke-width",4);
svg.append("path").attr("d",`M${frameX},${y(2007)}H${axisX}`).attr("stroke","#b81f24").attr("stroke-width",2);
const idx=d3.range(opens.length);
const cRed="#de2018",cBlue="#1f5fc4";
const col=i=>closes[i]>=opens[i]?cRed:cBlue;
svg.append("g").selectAll("line").data(idx).join("line")
 .attr("x1",i=>Math.round(x(i))+.5).attr("x2",i=>Math.round(x(i))+.5)
 .attr("y1",i=>y(Math.max(opens[i],closes[i])+wickUp[i])).attr("y2",i=>y(Math.min(opens[i],closes[i])-wickDown[i]))
 .attr("stroke",col).attr("stroke-width",1);
svg.append("g").selectAll("rect").data(idx).join("rect")
 .attr("x",i=>Math.round(x(i))-1).attr("width",3)
 .attr("y",i=>y(Math.max(opens[i],closes[i]))).attr("height",i=>Math.max(1,Math.abs(y(opens[i])-y(closes[i]))))
 .attr("fill",col);
ln(maOrange,"#f0a030",1);
ln(maRed,"#d9302a",1);
svg.append("g").selectAll("rect").data(idx).join("rect")
 .attr("x",i=>Math.round(x(i))-1).attr("width",3)
 .attr("y",i=>v(volumes[i])).attr("height",i=>Math.max(1,v(0)-v(volumes[i])))
 .attr("fill",i=>i===0||volumes[i]>=volumes[i-1]?"#e0201a":"#2060c4");
ln(volMa120,"#808080",1.4,v);
ln(volMa60,"#2f8f3c",1.4,v);
ln(volMa20,"#f0b030",1.2,v);
ln(volMa5,"#c030b0",1.2,v);
svg.append("rect").attr("x",axisX).attr("y",0).attr("width",W-axisX).attr("height",H).attr("fill","#d6e0ee");
svg.append("rect").attr("x",0).attr("y",1070.7).attr("width",W).attr("height",H-1070.7).attr("fill","#d6e0ee");
svg.append("line").attr("x1",frameX).attr("x2",axisX).attr("y1",758.3).attr("y2",758.3).attr("stroke","#939393").attr("stroke-width",1.4);
svg.append("line").attr("x1",frameX).attr("x2",frameX).attr("y1",0).attr("y2",1071).attr("stroke","#8e8e8e").attr("stroke-width",1.4);
svg.append("line").attr("x1",axisX).attr("x2",axisX).attr("y1",0).attr("y2",H).attr("stroke","#8e8e8e").attr("stroke-width",1.4);
svg.append("line").attr("x1",0).attr("x2",W).attr("y1",1070.7).attr("y2",1070.7).attr("stroke","#8e8e8e").attr("stroke-width",1.2);
svg.append("g").selectAll("line").data(tradeMonthIdx).join("line").attr("x1",d=>x(d)).attr("x2",d=>x(d)).attr("y1",1071).attr("y2",H).attr("stroke","#a8a8a8");
const styleAxis=g=>{g.select(".domain").remove();g.selectAll("line").attr("stroke","#8a8a8a");g.selectAll("text").attr("font-family",narrow).attr("font-size",14).attr("fill","#555");};
svg.append("g").attr("transform",`translate(${axisX},0)`).call(d3.axisRight(y).tickValues(d3.range(500,3001,50)).tickSize(3).tickFormat("")).call(styleAxis);
svg.append("g").attr("transform",`translate(${axisX},0)`).call(d3.axisRight(y).tickValues(priceLevels).tickSize(7).tickPadding(1).tickFormat(d3.format(","))).call(styleAxis);
svg.append("g").attr("transform",`translate(${axisX},0)`).call(d3.axisRight(v).tickValues(d3.range(0,140001,5000)).tickSize(3).tickFormat("")).call(styleAxis);
svg.append("g").attr("transform",`translate(${axisX},0)`).call(d3.axisRight(v).tickValues(volumeLevels.filter(d=>d>10000)).tickSize(7).tickPadding(1).tickFormat(d=>d3.format(",")(d)+"K")).call(styleAxis);
const t=(s,px,py,c,opt={})=>{const e=svg.append("text").attr("x",px).attr("y",py).attr("fill",c).attr("font-family",opt.font||narrow).attr("font-size",opt.size||14).attr("dominant-baseline","central").text(s);
 if(opt.anchor)e.attr("text-anchor",opt.anchor);
 if(opt.len)e.attr("textLength",opt.len).attr("lengthAdjust","spacingAndGlyphs");return e;};
svg.append("g").selectAll("text").data(tradeMonthIdx).join("text").attr("x",d=>x(d)+1.5).attr("y",1079.5).attr("dominant-baseline","central").attr("font-family",narrow).attr("font-size",14).attr("fill","#555").text((d,i)=>tradeMonthLabels[i]);
t("2018/07",5,1079.5,"#555");
t("12/18",2315,1079.5,"#555");
t("2,391",5,192,"#c8202c");
t("2,007",5,303,"#c8202c");
t("HC:-30,56",2307,4,"#2a62c0");
t("최고 3,060 (11/17)",1977.5,10,"#d3232a",{font:kr,size:14,len:98});
t("최저 660 (03/23)",1399,699,"#1a18b8",{font:kr,size:14,len:89});
const arrow=(x1,x2,yy,c)=>{svg.append("line").attr("x1",x1).attr("x2",x2-4).attr("y1",yy).attr("y2",yy).attr("stroke",c).attr("stroke-width",1.2);
 svg.append("path").attr("d",`M${x2},${yy}L${x2-7},${yy-5}V${yy+5}Z`).attr("fill",c);};
arrow(2082,x(574),10,"#d3232a");
arrow(1495,x(413)-1,699,"#1a18b8");
t("배당락(0.00%)",369.5,470.5,"#666",{font:kr,size:15,len:77});
t("배당락(0.00%)",1262.5,393,"#666",{font:kr,size:15,len:77});
const tri=(cx,cy)=>svg.append("path").attr("d",`M${cx-5},${cy-3.5}H${cx+5}L${cx},${cy+3.5}Z`).attr("fill","#ee1111");
tri(408,495);tri(1301,418);
svg.append("rect").attr("x",x(603)-3).attr("y",y(2397)-3).attr("width",6).attr("height",6).attr("fill","#ee1111");
[["전환선 9: 2,148",698,"#2b9a84",82],["기준선 26: 2,528",710,"#868686",89],["후행스팬 26: 2,125",722,"#a22fb3",99],["선행스팬1 9,26: 2,338",734,"#3a5fd0",116],["선행스팬2 52,26: 2,325",746,"#3a55c8",122]]
 .forEach(d=>t(d[0],2302,d[1],d[2],{font:kr,size:13,anchor:"end",len:d[3]}));
svg.append("rect").attr("x",2311.7).attr("y",271).attr("width",W-2311.7).attr("height",12.6).attr("fill","#e8200f");
t("2,125",2315,277.3,"#fff");
t("1.43%",2315,290,"#d03030");
svg.append("rect").attr("x",2311.7).attr("y",1039).attr("width",W-2311.7).attr("height",12).attr("fill","#e8200f");
t("11,716K",2315,1045,"#fff");
t("382.72%",2315,1056.5,"#d03030");
svg.append("rect").attr("x",8).attr("y",765).attr("width",4).attr("height",4.5).attr("fill","#aaa").attr("stroke","#555").attr("stroke-width",.6);
t("거래량",18,767,"#2b9a8a",{font:kr,size:14,len:35.5});
t("단순 5",62,767,"#b030b0",{font:kr,size:14,len:34});
t("20",104.6,767,"#e8a828",{len:11.5});
t("60",125,767,"#2f8f3c",{len:12});
t("120",145,767,"#808080",{len:17});
t("11,716,092주(382.72%)",10,780.7,"#444",{font:kr,size:13,len:120});
const ic=svg.append("g");
ic.append("rect").attr("x",9.5).attr("y",3.5).attr("width",13).attr("height",12).attr("fill","#d8d8d8").attr("stroke","#333");
[13,16,19].forEach(px=>ic.append("line").attr("x1",px).attr("x2",px).attr("y1",4).attr("y2",15).attr("stroke","#777"));
[7,10,13].forEach(py=>ic.append("line").attr("x1",10).attr("x2",22).attr("y1",py).attr("y2",py).attr("stroke","#777"));
svg.append("rect").attr("x",2361).attr("y",762).attr("width",5).attr("height",6).attr("fill","#444");
// narrow look of the terminal font: squeeze every plain Latin label horizontally
svg.selectAll("text").each(function(){
 if(!this.getAttribute("textLength")){
  const l=this.getComputedTextLength();
  if(l>0){this.setAttribute("textLength",(l*.82).toFixed(1));this.setAttribute("lengthAdjust","spacingAndGlyphs");}
 }
});
</script></body></html>
